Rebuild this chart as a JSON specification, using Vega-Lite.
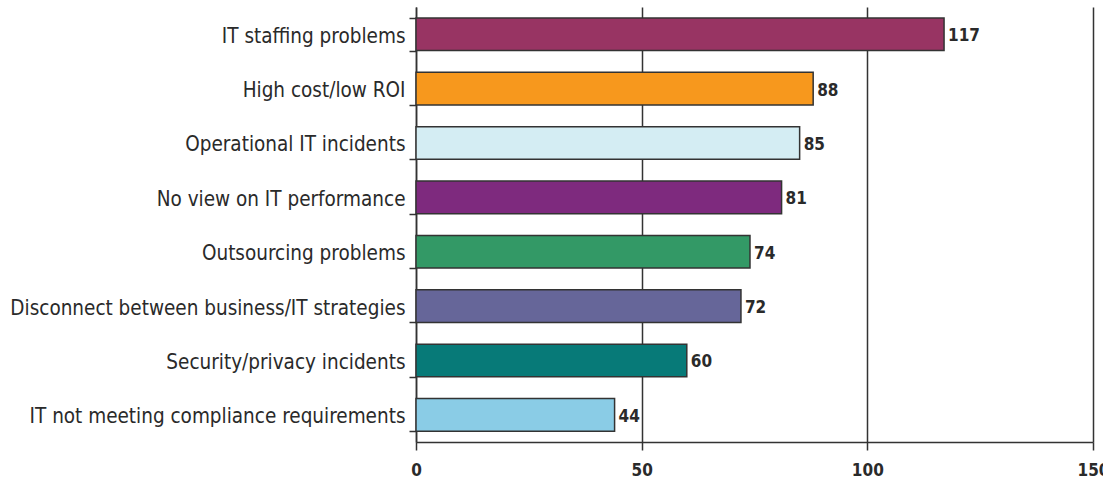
{
  "$schema": "https://vega.github.io/schema/vega-lite/v6.json",
  "width": 677,
  "height": 435,
  "autosize": {"type": "none"},
  "padding": {"left": 416, "top": 7, "right": 10, "bottom": 41},
  "background": "white",
  "config": {
    "view": {"stroke": null},
    "font": "DejaVu Sans Condensed, sans-serif"
  },
  "data": {
    "values": [
      {"issue": "IT staffing problems", "count": 117, "color": "#983463"},
      {"issue": "High cost/low ROI", "count": 88, "color": "#F7981D"},
      {"issue": "Operational IT incidents", "count": 85, "color": "#D4EDF3"},
      {"issue": "No view on IT performance", "count": 81, "color": "#7E2A7E"},
      {"issue": "Outsourcing problems", "count": 74, "color": "#339966"},
      {"issue": "Disconnect between business/IT strategies", "count": 72, "color": "#666699"},
      {"issue": "Security/privacy incidents", "count": 60, "color": "#077A78"},
      {"issue": "IT not meeting compliance requirements", "count": 44, "color": "#8ACCE6"}
    ]
  },
  "encoding": {
    "y": {
      "field": "issue",
      "type": "nominal",
      "sort": null,
      "scale": {"paddingInner": 0.4, "paddingOuter": 0.2},
      "axis": {
        "title": null,
        "tickBand": "extent",
        "tickSize": 7,
        "tickColor": "#333",
        "tickWidth": 1.5,
        "domainColor": "#333",
        "domainWidth": 1.5,
        "labelFontSize": 20.5,
        "labelColor": "#2a2a2a",
        "labelPadding": 4,
        "labelLimit": 500,
        "labelBaseline": "middle",
        "labelOffset": 2,
        "grid": false
      }
    },
    "x": {
      "field": "count",
      "type": "quantitative",
      "scale": {"domain": [0, 150], "nice": false},
      "axis": {
        "title": null,
        "values": [0, 50, 100, 150],
        "grid": true,
        "gridColor": "#333",
        "gridWidth": 1.5,
        "gridOpacity": 1,
        "tickSize": 8,
        "tickColor": "#333",
        "tickWidth": 1.5,
        "domainColor": "#333",
        "domainWidth": 1.5,
        "labelFontSize": 17,
        "labelFontWeight": "bold",
        "labelColor": "#2a2a2a",
        "labelPadding": 12,
        "labelFlush": false
      }
    }
  },
  "layer": [
    {
      "mark": {"type": "bar", "stroke": "#333", "strokeWidth": 1.5},
      "encoding": {
        "color": {"field": "color", "type": "nominal", "scale": null}
      }
    },
    {
      "mark": {"type": "text", "align": "left", "dx": 4, "dy": 2, "fontSize": 17, "fontWeight": "bold", "color": "#2a2a2a"},
      "encoding": {
        "text": {"field": "count", "type": "quantitative"}
      }
    }
  ]
}
